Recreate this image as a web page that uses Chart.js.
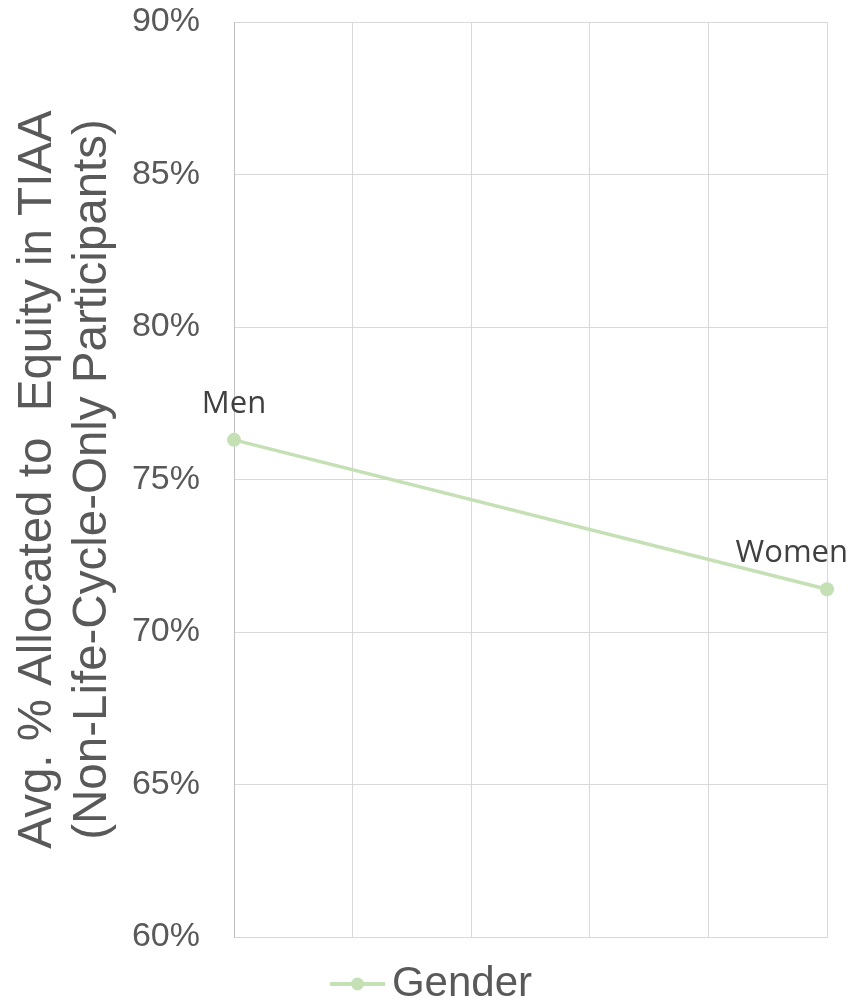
<!DOCTYPE html>
<html>
<head>
<meta charset="utf-8">
<script src="https://cdn.jsdelivr.net/npm/chart.js@4.4.1/dist/chart.umd.min.js"></script>
<style>
    html, body { margin: 0; padding: 0; background: #ffffff; }
    #wrap { width: 863px; height: 1007px; }
</style>
</head>
<body>
<div id="wrap"><canvas id="chart" width="863" height="1007"></canvas></div>
<script>
(function (window, document) {
    'use strict';

    var categories = ['Men', 'Women'];
    var genderPos = [0, 1];
    var equityShare = [76.3, 71.4];
    var yTicks = [60, 65, 70, 75, 80, 85, 90];
    var seriesName = 'Gender';
    var axisTitle = ['Avg. % Allocated to  Equity in TIAA', '(Non-Life-Cycle-Only Participants)'];

    var lineColor = '#c5e0b4';
    var textColor = '#595959';
    var gridColor = '#d9d9d9';

    function legendMarker() {
        var c = document.createElement('canvas');
        c.width = 55;
        c.height = 16;
        var g = c.getContext('2d');
        g.strokeStyle = lineColor;
        g.lineWidth = 4;
        g.beginPath();
        g.moveTo(0, 8);
        g.lineTo(55, 8);
        g.stroke();
        g.fillStyle = lineColor;
        g.beginPath();
        g.arc(27.5, 8, 6.5, 0, Math.PI * 2);
        g.fill();
        return c;
    }

    // category names written above each point
    var pointLabels = {
        id: 'pointLabels',
        afterDatasetsDraw: function (chart) {
            var meta = chart.getDatasetMeta(0);
            var ctx = chart.ctx;
            var maxRight = chart.width - 15;

            ctx.save();
            ctx.font = "31px 'Open Sans', sans-serif";
            ctx.fillStyle = '#404040';
            ctx.textAlign = 'center';
            ctx.textBaseline = 'alphabetic';

            meta.data.forEach(function (pt, i) {
                var text = categories[i];
                var w = ctx.measureText(text).width;
                var x = pt.x;
                if (x + w / 2 > maxRight) {
                    x = maxRight - w / 2;
                }
                ctx.fillText(text, x, pt.y - 27);
            });

            ctx.restore();
        }
    };

    // centre the legend on the whole picture, a little lower
    var legendPlacement = {
        id: 'legendPlacement',
        afterLayout: function (chart) {
            var lg = chart.legend;
            if (!lg) {
                return;
            }
            lg.left = 13;
            lg.right = chart.width;
            lg.width = lg.right - lg.left;
            lg.top += 8;
            lg.bottom += 8;
        }
    };

    function build() {
        Chart.defaults.font.family = "'Liberation Sans', Arial, sans-serif";
        Chart.defaults.color = textColor;

        var marker = legendMarker();

        new Chart(document.getElementById('chart'), {
            type: 'line',
            data: {
                datasets: [{
                    label: seriesName,
                    data: genderPos.map(function (x, i) {
                        return { x: x, y: equityShare[i] };
                    }),
                    borderColor: lineColor,
                    backgroundColor: lineColor,
                    borderWidth: 3.5,
                    pointRadius: 7,
                    pointBorderWidth: 0,
                    pointBackgroundColor: lineColor,
                    clip: false,
                    tension: 0
                }]
            },
            options: {
                responsive: false,
                animation: false,
                layout: { padding: { top: 22, right: 36, bottom: 0, left: 0 } },
                plugins: {
                    tooltip: { enabled: false },
                    legend: {
                        position: 'bottom',
                        labels: {
                            usePointStyle: true,
                            pointStyleWidth: 27,
                            padding: 18,
                            color: textColor,
                            font: { size: 42 },
                            generateLabels: function () {
                                return [{
                                    text: seriesName,
                                    pointStyle: marker,
                                    fontColor: textColor,
                                    lineWidth: 0,
                                    strokeStyle: 'transparent',
                                    fillStyle: lineColor,
                                    datasetIndex: 0
                                }];
                            }
                        }
                    }
                },
                scales: {
                    x: {
                        type: 'linear',
                        min: 0,
                        max: 1,
                        ticks: { display: false, stepSize: 0.2 },
                        grid: { color: gridColor, drawTicks: false },
                        border: { color: gridColor }
                    },
                    y: {
                        min: yTicks[0],
                        max: yTicks[yTicks.length - 1],
                        afterBuildTicks: function (scale) {
                            scale.ticks = yTicks.map(function (v) {
                                return { value: v };
                            });
                        },
                        afterFit: function (scale) {
                            scale.width = 234;
                            // tick padding would otherwise push the plot down
                            scale.paddingTop = 0;
                            scale.paddingBottom = 0;
                        },
                        ticks: {
                            padding: 34,
                            color: textColor,
                            font: { size: 34 },
                            callback: function (value) {
                                return value + '%';
                            }
                        },
                        grid: { color: gridColor, drawTicks: false },
                        border: { color: '#bfbfbf' },
                        title: {
                            display: true,
                            text: axisTitle,
                            color: textColor,
                            font: { size: 47.5, lineHeight: '55px' },
                            padding: { top: 10.5, bottom: 0 }
                        }
                    }
                }
            },
            plugins: [pointLabels, legendPlacement]
        });
    }

    Promise.all([
        document.fonts.load("31px 'Open Sans'"),
        document.fonts.load("34px 'Liberation Sans'")
    ]).then(build, build);
})(window, document);
</script>
</body>
</html>
